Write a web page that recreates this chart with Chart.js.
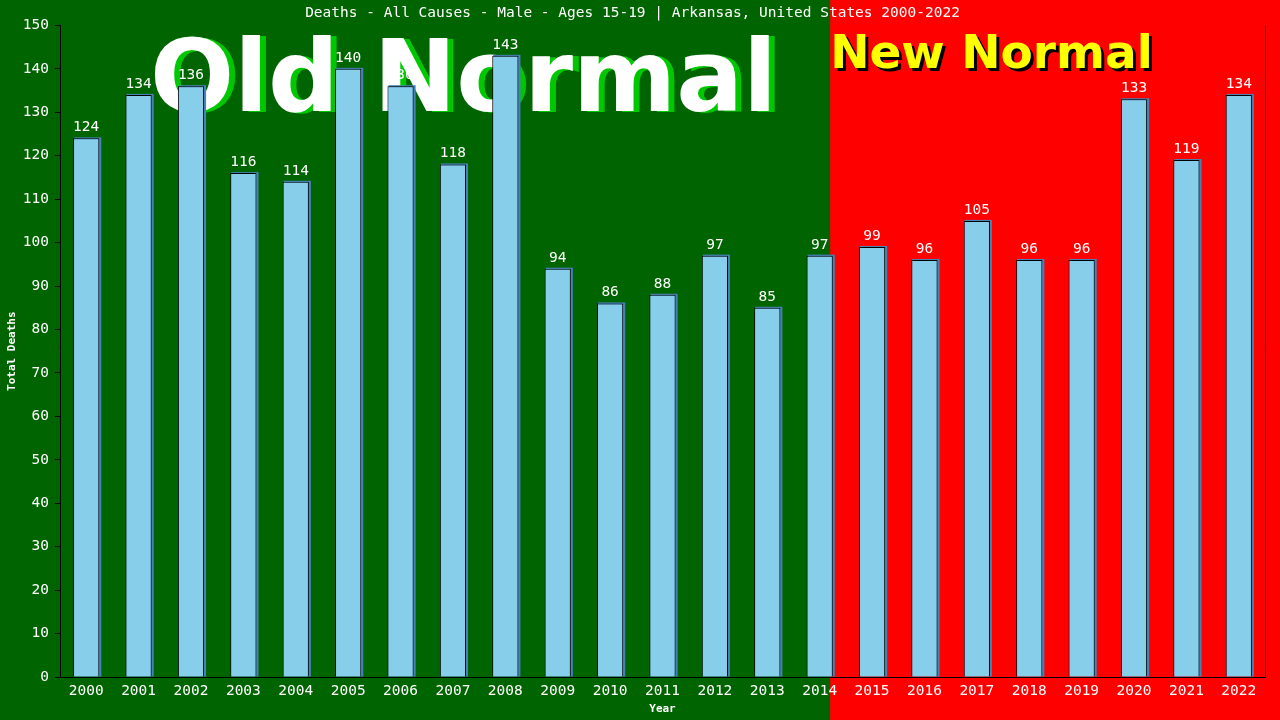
<!DOCTYPE html>
<html>
<head>
<meta charset="utf-8">
<script src="https://cdn.jsdelivr.net/npm/chart.js@4/dist/chart.umd.min.js"></script>
<style>
html,body{margin:0;padding:0;background:#006400;}
#wrap{width:1280px;height:720px;position:relative;}
</style>
</head>
<body>
<div id="wrap"><canvas id="c" width="1280" height="720"></canvas></div>
<script>
const years = ['2000','2001','2002','2003','2004','2005','2006','2007','2008','2009','2010','2011','2012','2013','2014','2015','2016','2017','2018','2019','2020','2021','2022'];
const deaths = [124,134,136,116,114,140,136,118,143,94,86,88,97,85,97,99,96,105,96,96,133,119,134];
const titleText = 'Deaths - All Causes - Male - Ages 15-19 | Arkansas, United States 2000-2022';
const yTitle = 'Total Deaths';
const xTitle = 'Year';
const oldLabel = 'Old Normal';
const newLabel = 'New Normal';
const splitIndex = 14;

const MONO = '"DejaVu Sans Mono", monospace';

const bgPlugin = {
  id: 'bg',
  beforeDraw(chart) {
    const ctx = chart.ctx, x = chart.scales.x;
    const p0 = x.getPixelForValue(splitIndex), p1 = x.getPixelForValue(splitIndex + 1);
    const split = p0 + 0.2 * (p1 - p0);
    chart._split = split;
    ctx.save();
    ctx.fillStyle = '#006400';
    ctx.fillRect(0, 0, split, chart.height);
    ctx.fillStyle = '#FF0000';
    ctx.fillRect(split, 0, chart.width - split, chart.height);
    ctx.restore();
  },
  beforeDatasetsDraw(chart) {
    const ctx = chart.ctx;
    ctx.save();
    ctx.textBaseline = 'alphabetic';
    ctx.textAlign = 'left';
    ctx.font = 'bold 99px "DejaVu Sans", Verdana, sans-serif';
    ctx.fillStyle = '#00C800';
    ctx.fillText(oldLabel, 156, 112);
    ctx.fillStyle = '#FFFFFF';
    ctx.fillText(oldLabel, 150, 111);
    ctx.font = 'bold 47px "DejaVu Sans", Verdana, sans-serif';
    ctx.fillStyle = '#000000';
    ctx.fillText(newLabel, chart._split + 3, 71);
    ctx.fillStyle = '#FFFF00';
    ctx.fillText(newLabel, chart._split, 68);
    // bar shadows
    const meta = chart.getDatasetMeta(0);
    ctx.fillStyle = '#4682B4';
    meta.data.forEach(b => {
      const w = b.width;
      ctx.fillRect(b.x - w / 2 + 1, b.y - 1, w + 1, b.base - b.y + 1);
    });
    ctx.restore();
  },
  afterDatasetsDraw(chart) {
    const ctx = chart.ctx;
    const meta = chart.getDatasetMeta(0);
    ctx.save();
    ctx.font = '14.5px ' + MONO;
    ctx.fillStyle = '#FFFFFF';
    ctx.textAlign = 'center';
    ctx.textBaseline = 'alphabetic';
    meta.data.forEach((b, i) => {
      ctx.fillText(String(deaths[i]), b.x, b.y - 7);
    });
    const a = chart.chartArea;
    ctx.strokeStyle = '#000000';
    ctx.lineWidth = 1;
    ctx.beginPath();
    ctx.moveTo(Math.round(a.right) + 0.5, a.top);
    ctx.lineTo(Math.round(a.right) + 0.5, a.bottom);
    ctx.stroke();
    ctx.restore();
  }
};

new Chart(document.getElementById('c'), {
  type: 'bar',
  data: {
    labels: years,
    datasets: [{
      data: deaths,
      backgroundColor: '#87CEEB',
      borderColor: '#000000',
      borderWidth: {left: 1, top: 1, right: 1, bottom: 0},
      borderSkipped: false,
      barPercentage: 0.5,
      categoryPercentage: 1.0
    }]
  },
  options: {
    responsive: false,
    animation: false,
    devicePixelRatio: 1,
    layout: {padding: {top: 0, right: 15, left: 0, bottom: 0}},
    plugins: {
      legend: {display: false},
      tooltip: {enabled: false},
      title: {
        display: true,
        text: titleText,
        color: '#FFFFFF',
        font: {family: MONO, size: 14.5, weight: 'normal'},
        padding: {top: 5, bottom: 3}
      }
    },
    scales: {
      x: {
        grid: {display: true, drawOnChartArea: false, drawTicks: false, color: '#000000'},
        border: {display: true, color: '#000000', width: 1},
        ticks: {color: '#FFFFFF', font: {family: MONO, size: 14.5}, padding: 6, maxRotation: 0, autoSkip: false},
        title: {display: true, text: xTitle, color: '#FFFFFF', font: {family: MONO, size: 11, weight: 'bold'}, padding: {top: 0, bottom: 4}},
        afterFit(s) { s.height = 43; }
      },
      y: {
        min: 0, max: 150,
        grid: {display: true, drawOnChartArea: false, drawTicks: true, tickLength: 5, color: '#000000'},
        border: {display: true, color: '#000000', width: 1},
        ticks: {stepSize: 10, color: '#FFFFFF', font: {family: MONO, size: 14.5}, padding: 6},
        title: {display: true, text: yTitle, color: '#FFFFFF', font: {family: MONO, size: 11, weight: 'bold'}, padding: {top: 6, bottom: 0}},
        afterFit(s) { s.width = 60; }
      }
    }
  },
  plugins: [bgPlugin]
});
</script>
</body>
</html>
